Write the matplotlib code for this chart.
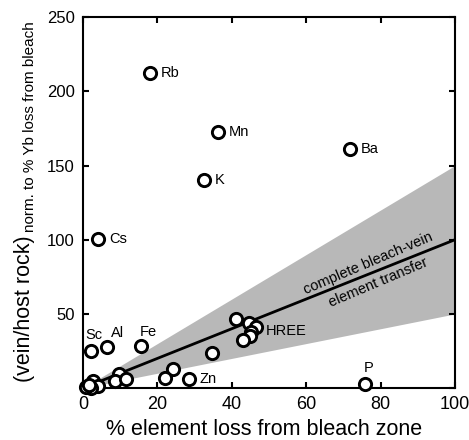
import matplotlib
matplotlib.use('Agg')
import matplotlib.pyplot as plt

plt.rcParams['font.family'] = ['Liberation Sans', 'DejaVu Sans']

# % element loss from bleach zone vs normalised vein/host ratio
x_loss = [17.9, 36.2, 71.7, 32.4, 4.0, 2.1, 6.5, 15.7,
          41.2, 44.7, 46.5, 45.3, 44.9, 42.9, 34.8, 24.1, 22.1, 28.6, 75.8,
          9.6, 8.7, 11.6, 2.6, 4.1, 2.1, 0.8, 1.5]
y_ratio = [212.5, 172.5, 161.0, 140.0, 100.8, 25.2, 27.4, 28.1,
           46.5, 44.2, 41.0, 37.6, 35.3, 32.1, 23.6, 12.6, 6.5, 5.9, 2.5,
           9.5, 4.8, 5.9, 5.0, 1.3, 0.3, 0.4, 1.8]

labels = ['Rb', 'Mn', 'Ba', 'K', 'Cs']
label_x = [17.9, 36.2, 71.7, 32.4, 4.0]
label_y = [212.5, 172.5, 161.0, 140.0, 100.8]

free_labels = ['HREE', 'Zn', 'P', 'Sc', 'Al', 'Fe']
free_x = [49.0, 31.2, 76.9, 3.0, 9.2, 17.6]
free_y = [38.6, 5.8, 13.3, 35.5, 36.8, 37.7]
free_ha = ['left', 'left', 'center', 'center', 'center', 'center']

# complete transfer line and envelope
line_x = [0, 100]
line_y = [0, 100]
env_hi = [0, 150]
env_lo = [0, 50]

fig = plt.figure(figsize=(4.69, 4.40), dpi=100)
ax = fig.add_axes([0.177, 0.118, 0.793, 0.843])

ax.fill_between(line_x, env_lo, env_hi, color='#b8b8b8', lw=0, zorder=1)
ax.plot(line_x, line_y, color='black', lw=2, zorder=2)
ax.plot(x_loss, y_ratio, 'o', ms=8.8, mfc='white', mec='black', mew=2.1, zorder=3, clip_on=False)

for lab, lx, ly in zip(labels, label_x, label_y):
    ax.annotate(lab, (lx, ly), xytext=(8, 0), textcoords='offset points',
                ha='left', va='center', fontsize=10.5)
for lab, lx, ly, h in zip(free_labels, free_x, free_y, free_ha):
    ax.text(lx, ly, lab, ha=h, va='center', fontsize=10.5)

ax.text(76.6, 84, 'complete bleach-vein', rotation=23, ha='center', va='center', fontsize=10.5)
ax.text(79.4, 71.2, 'element transfer', rotation=23, ha='center', va='center', fontsize=10.5)

ax.set_xlim(0, 100)
ax.set_ylim(0, 250)
ax.set_xticks([0, 20, 40, 60, 80, 100])
ax.set_yticks([0, 50, 100, 150, 200, 250])
ax.set_yticklabels(['', '50', '100', '150', '200', '250'])
ax.tick_params(direction='in', length=4, width=1.5, top=True, right=True, pad=6)
ax.tick_params(axis='x', labelsize=13)
ax.tick_params(axis='y', labelsize=12)
for sp in ax.spines.values():
    sp.set_linewidth(1.5)

fig.text(0.563, 5 / 440, '% element loss from bleach zone', ha='center',
         va='baseline', fontsize=15.5)

fig.text(30 / 469, 58 / 440, '(vein/host rock)', rotation=90, rotation_mode='anchor',
         ha='left', va='baseline', fontsize=15.5)
fig.text(34 / 469, 208 / 440, 'norm. to % Yb loss from bleach', rotation=90,
         rotation_mode='anchor', ha='left', va='baseline', fontsize=11)

fig.savefig('out.png', dpi=100)
